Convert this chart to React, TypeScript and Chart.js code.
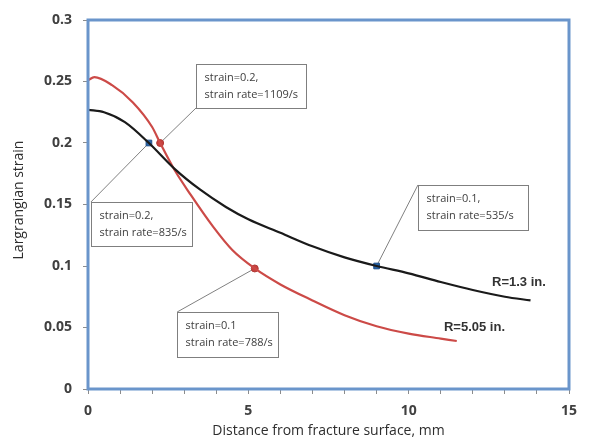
import React, { useEffect, useRef } from "react";
import { Chart, registerables } from "chart.js";

Chart.register(...registerables);

// ---- data ----
const blackX = [0, 0.5, 1.15, 1.9, 2.7, 3.5, 4.3, 5, 6, 7, 8, 9, 10, 11, 12, 13, 13.8];
const blackY = [0.227, 0.225, 0.217, 0.2, 0.179, 0.162, 0.148, 0.138, 0.127, 0.116, 0.107, 0.1, 0.094, 0.087, 0.0805, 0.075, 0.072];

const redX = [0, 0.2, 0.75, 1.4, 2.0, 2.25, 2.7, 3.2, 3.9, 4.5, 5.2, 6, 7, 8, 9, 10, 11, 11.5];
const redY = [0.251, 0.2535, 0.247, 0.233, 0.213, 0.2, 0.178, 0.158, 0.132, 0.113, 0.098, 0.085, 0.072, 0.06, 0.051, 0.045, 0.041, 0.039];

const blueMarkX = [1.9, 9.0];
const blueMarkY = [0.2, 0.1];
const redMarkX = [2.25, 5.2];
const redMarkY = [0.2, 0.098];

const yTicks = [0, 0.05, 0.1, 0.15, 0.2, 0.25, 0.3];
const xTickLabels = [0, 5, 10, 15];

const noteLines = [
  ["strain=0.2,", "strain rate=1109/s"],
  ["strain=0.2,", "strain rate=835/s"],
  ["strain=0.1", "strain rate=788/s"],
  ["strain=0.1,", "strain rate=535/s"],
];
// box extents in data units: [x0, x1, yTop, yBottom]
const noteBoxes = [
  [3.37, 6.8, 0.264, 0.2285],
  [0.09, 3.24, 0.152, 0.1163],
  [2.78, 5.92, 0.0626, 0.026],
  [10.29, 13.72, 0.1659, 0.1293],
];
// which corner connects, and target marker
const noteCorner = ["bl", "tl", "tl", "tl"];
const noteTargetX = [2.25, 1.9, 5.2, 9.0];
const noteTargetY = [0.2, 0.2, 0.098, 0.1];

const seriesLabels = ["R=1.3 in.", "R=5.05 in."];
const seriesLabelX = [12.6, 11.1];
const seriesLabelY = [0.087, 0.0504];

const toPts = (xs: number[], ys: number[]) => xs.map((x, i) => ({ x, y: ys[i] }));

const decor = {
  id: "decor",
  beforeDatasetsDraw(chart: any) {
    const { ctx, scales } = chart;
    const xs = scales.x, ys = scales.y;
    ctx.save();
    ctx.strokeStyle = "#808080";
    ctx.lineWidth = 1;
    noteBoxes.forEach((b, i) => {
      const x0 = xs.getPixelForValue(b[0]);
      const yT = ys.getPixelForValue(b[2]);
      const yB = ys.getPixelForValue(b[3]);
      const cy = noteCorner[i] === "bl" ? yB : yT;
      ctx.beginPath();
      ctx.moveTo(x0, cy);
      ctx.lineTo(xs.getPixelForValue(noteTargetX[i]), ys.getPixelForValue(noteTargetY[i]));
      ctx.stroke();
    });
    ctx.restore();
  },
  afterDatasetsDraw(chart: any) {
    const { ctx, scales } = chart;
    const xs = scales.x, ys = scales.y;
    ctx.save();
    noteBoxes.forEach((b, i) => {
      const x0 = Math.round(xs.getPixelForValue(b[0])) + 0.5;
      const x1 = Math.round(xs.getPixelForValue(b[1])) + 0.5;
      const yT = Math.round(ys.getPixelForValue(b[2])) + 0.5;
      const yB = Math.round(ys.getPixelForValue(b[3])) + 0.5;
      ctx.fillStyle = "#ffffff";
      ctx.fillRect(x0, yT, x1 - x0, yB - yT);
      ctx.strokeStyle = "#7f7f7f";
      ctx.lineWidth = 1;
      ctx.strokeRect(x0, yT, x1 - x0, yB - yT);
      ctx.fillStyle = "#404040";
      ctx.font = "11px 'Open Sans'";
      ctx.textBaseline = "middle";
      ctx.textAlign = "left";
      const mid = (yT + yB) / 2;
      ctx.fillText(noteLines[i][0], x0 + 8, mid - 9);
      ctx.fillText(noteLines[i][1], x0 + 8, mid + 8);
    });
    ctx.fillStyle = "#333333";
    ctx.font = "bold 13px 'Liberation Sans'";
    ctx.textBaseline = "middle";
    ctx.textAlign = "left";
    seriesLabels.forEach((t, i) => {
      ctx.fillText(t, xs.getPixelForValue(seriesLabelX[i]), ys.getPixelForValue(seriesLabelY[i]));
    });
    ctx.restore();
  },
  afterDraw(chart: any) {
    const { ctx, chartArea } = chart;
    ctx.save();
    ctx.strokeStyle = "#6a95cb";
    ctx.lineWidth = 3;
    ctx.strokeRect(chartArea.left, chartArea.top, chartArea.right - chartArea.left, chartArea.bottom - chartArea.top);
    ctx.fillStyle = "#2e2e2e";
    ctx.font = "14px 'Open Sans'";
    ctx.textAlign = "center";
    ctx.textBaseline = "middle";
    ctx.fillText("Distance from fracture surface, mm", (chartArea.left + chartArea.right) / 2, 431);
    ctx.translate(19, 200);
    ctx.rotate(-Math.PI / 2);
    ctx.fillText("Largrangian strain", 0, 0);
    ctx.restore();
  },
};

export default function App() {
  const ref = useRef<HTMLCanvasElement>(null);
  useEffect(() => {
    if (!ref.current) return;
    const chart = new Chart(ref.current, {
      type: "scatter",
      data: {
        datasets: [
          {
            data: toPts(blackX, blackY),
            showLine: true,
            borderColor: "#1a1a1a",
            borderWidth: 2.2,
            pointRadius: 0,
            cubicInterpolationMode: "monotone",
          },
          {
            data: toPts(redX, redY),
            showLine: true,
            borderColor: "#cc4a47",
            borderWidth: 2.2,
            pointRadius: 0,
            cubicInterpolationMode: "monotone",
          },
          {
            data: toPts(blueMarkX, blueMarkY),
            showLine: false,
            pointStyle: "rect",
            pointRadius: 4,
            backgroundColor: "#2563a8",
            borderColor: "#1f4f8a",
            borderWidth: 1,
          },
          {
            data: toPts(redMarkX, redMarkY),
            showLine: false,
            pointStyle: "circle",
            pointRadius: 3.5,
            backgroundColor: "#c8413e",
            borderColor: "#b03a37",
            borderWidth: 1,
          },
        ],
      } as any,
      options: {
        animation: false,
        responsive: false,
        layout: { padding: { top: 20, right: 23, left: 0, bottom: 0 } },
        plugins: { legend: { display: false }, tooltip: { enabled: false } },
        scales: {
          x: {
            type: "linear",
            min: 0,
            max: 15,
            afterFit: (s: any) => { s.height = 49; },
            border: { display: false },
            grid: { drawOnChartArea: false, drawTicks: true, tickLength: 5, color: "#8c8c8c" },
            ticks: {
              stepSize: 1,
              autoSkip: false,
              maxRotation: 0,
              padding: 9,
              color: "#404040",
              font: { family: "'Open Sans'", size: 14, weight: "bold" },
              callback: (v: any) => (xTickLabels.includes(Number(v)) ? String(v) : ""),
            },
          },
          y: {
            type: "linear",
            min: 0,
            max: 0.3,
            afterFit: (s: any) => { s.width = 88; },
            afterBuildTicks: (s: any) => { s.ticks = yTicks.map((v) => ({ value: v })); },
            border: { display: false },
            grid: { drawOnChartArea: false, drawTicks: true, tickLength: 5, color: "#8c8c8c" },
            ticks: {
              padding: 11,
              color: "#404040",
              font: { family: "'Open Sans'", size: 14, weight: "bold" },
              callback: (v: any) => String(parseFloat(Number(v).toFixed(2))),
            },
          },
        },
      } as any,
      plugins: [decor],
    });
    return () => chart.destroy();
  }, []);
  return (
    <div style={{ position: "absolute", left: 0, top: 0, width: 592, height: 438, background: "#fff" }}>
      <canvas ref={ref} width={592} height={438} style={{ width: 592, height: 438 }} />
    </div>
  );
}
